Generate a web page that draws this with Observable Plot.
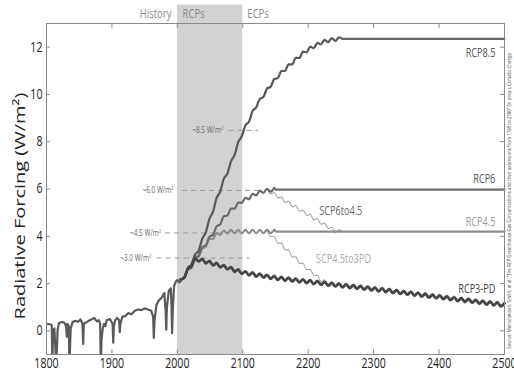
<!DOCTYPE html>
<html><head><meta charset="utf-8">
<script src="https://cdn.jsdelivr.net/npm/d3@7"></script>
<script src="https://cdn.jsdelivr.net/npm/@observablehq/plot@0.6"></script>
<style>
html,body{margin:0;padding:0;background:#fff;}
#chart{width:514px;height:372px;overflow:hidden;}
</style></head><body><div id="chart"></div>
<script>
const FONT = '"Open Sans",Roboto,sans-serif';
const CONDENSE = 0.76; // horizontal squeeze to mimic the condensed face
const STEP = 5.5; // half solar-cycle spacing of the read values (years)

// History 1800-2005
const historyYears = [1800,1805,1808,1809,1810,1812,1815,1817,1819,1823,1827,1830,1831,1832,1834,1835,1837,1840,1845,1848,1852,1855,1856,1857,1862,1866,1870,1873,1877,1880,1882,1883,1884,1886,1888,1890,1892,1897,1901,1902,1903,1905,1908,1911,1912,1913,1916,1920,1925,1930,1935,1940,1945,1950,1955,1960,1963,1964,1965,1968,1972,1976,1980,1982,1983,1984,1987,1990,1991,1992,1993,1995,1998,2000,2003,2005];
const historyValues = [0.30,0.28,0.25,-1.5,0.0,0.1,-1.5,0.05,0.32,0.38,0.35,0.2,-0.25,0.3,0.2,-1.5,0.1,0.38,0.42,0.38,0.48,0.3,-0.55,0.3,0.38,0.45,0.5,0.55,0.4,0.45,0.3,-1.5,-0.4,0.1,0.3,0.2,0.45,0.5,0.3,-0.5,0.2,0.45,0.55,0.45,-0.05,0.3,0.6,0.62,0.75,0.7,0.85,0.9,0.88,0.95,0.9,0.85,0.6,-0.3,0.4,1.1,1.3,1.4,1.6,0.9,0.05,1.0,1.7,1.8,1.1,-0.1,0.9,1.9,2.1,2.15,2.05,2.1];

// Scenario values, every 5.5 years from the start year
const rcp85Start = 2005;
const rcp85 = [2.17,2.26,2.67,2.81,3.22,3.39,3.89,4.16,4.74,5.04,5.62,5.89,6.44,6.65,7.17,7.44,7.98,8.23,8.69,8.85,9.30,9.45,9.81,9.89,10.25,10.32,10.65,10.69,10.99,10.99,11.27,11.27,11.55,11.54,11.81,11.78,12.02,11.96,12.18,12.12,12.31,12.21,12.38,12.26,12.41,12.35];
const rcp85Flat = 12.35;
const rcp6Start = 2005;
const rcp6 = [2.17,2.25,2.61,2.70,3.09,3.18,3.54,3.62,3.98,4.06,4.42,4.50,4.85,4.88,5.17,5.17,5.43,5.41,5.63,5.57,5.80,5.73,5.93,5.84,6.01,5.89,6.04];
const rcp6Flat = 5.97;
const rcp45Start = 2005;
const rcp45 = [2.17,2.25,2.58,2.65,3.04,3.13,3.49,3.55,3.89,3.88,4.14,4.06,4.24,4.12,4.27,4.13,4.27,4.13,4.27,4.13,4.27,4.13,4.27,4.13,4.27,4.13,4.27];
const rcp45Flat = 4.2;
const rcp3Start = 2005;
const rcp3 = [2.17,2.25,2.62,2.74,3.05,2.94,3.04,2.86,2.96,2.77,2.87,2.69,2.78,2.60,2.69,2.50,2.60,2.41,2.52,2.35,2.47,2.30,2.42,2.25,2.37,2.20,2.32,2.16,2.28,2.12,2.25,2.09,2.21,2.05,2.18,2.02,2.14,1.98,2.11,1.95,2.07,1.91,2.03,1.88,2.00,1.84,1.96,1.81,1.93,1.78,1.90,1.74,1.87,1.71,1.83,1.67,1.80,1.64,1.76,1.60,1.72,1.56,1.68,1.53,1.65,1.49,1.61,1.45,1.57,1.41,1.53,1.38,1.50,1.34,1.46,1.30,1.42,1.26,1.38,1.22,1.35,1.19,1.31,1.15,1.27,1.11,1.24,1.08,1.20,1.04,1.17];
const scp6to45Start = 2137;
const scp6to45 = [6.01,5.80,5.85,5.62,5.66,5.43,5.48,5.25,5.30,5.06,5.11,4.88,4.93,4.70,4.75,4.51,4.56,4.33,4.38,4.15,4.27,4.20];
const scp45to3Start = 2137;
const scp45to3 = [4.27,3.99,3.99,3.71,3.71,3.43,3.42,3.13,3.13,2.85,2.86,2.59,2.60,2.34,2.35,2.09,2.16,1.97,2.07,1.91,2.05,1.89,2.01,1.86,1.98,1.83,1.95,1.79,1.92,1.76,1.88,1.72,1.85,1.69,1.81,1.65,1.77,1.61,1.73,1.58,1.70,1.54,1.66,1.50,1.62,1.46,1.58,1.43,1.55,1.39,1.51,1.35,1.47,1.31,1.43,1.27,1.40,1.24,1.36,1.20,1.32,1.16,1.29,1.13,1.25,1.09,1.22];

// Series labels
const seriesNames = ["RCP8.5","RCP6","SCP6to4.5","RCP4.5","SCP4.5to3PD","RCP3-PD"];
const labelYears = [2486,2486,2217,2486,2212,2486];
const labelValues = [11.75,6.42,5.07,4.58,3.04,1.76];
const labelAnchors = ["end","end","start","end","start","end"];
const labelColors = ["#555","#555","#666","#9a9a9a","#aaa","#444"];

// Target-level annotations
const annotTexts = ["~8.5 W/m²","~6.0 W/m²","~4.5 W/m²","~3.0 W/m²"];
const annotLevels = [8.48,5.94,4.14,3.08];
const annotTextEnd = [2070,1994,1975,1960];
const annotDashFrom = [2079,2008,1982,1969];
const annotDashTo = [2124,2130,2069,2111];

// Period headers
const periodNames = ["History","RCPs","ECPs"];
const periodYears = [1991,2008,2107];
const periodAnchors = ["end","start","start"];

const xTicks = [1800,1900,2000,2100,2200,2300,2400,2500];
const yTicks = [0,2,4,6,8,10,12];
const yLabel = "Radiative Forcing (W/m²)";
const sourceText = "Source: Meinshausen, Smith, et al. \u201cThe RCP Greenhouse Gas Concentrations and their extensions from 1765 to 2300\u201d (in prep.), Climatic Change";

function seq(start, values){ return values.map((v,i)=>({year:start+STEP*i, value:v})); }
function withFlat(start, values, flat){
  const s = seq(start, values);
  const last = s[s.length-1].year;
  return {wavy:s, flat:[{year:last, value: values[values.length-1]},{year:last+STEP*0.5,value:flat},{year:2500,value:flat}]};
}
const history = historyYears.map((y,i)=>({year:y, value:historyValues[i]}));
const s85 = withFlat(rcp85Start, rcp85, rcp85Flat);
const s6 = withFlat(rcp6Start, rcp6, rcp6Flat);
const s45 = withFlat(rcp45Start, rcp45, rcp45Flat);
const s3 = seq(rcp3Start, rcp3);
const sc1 = seq(scp6to45Start, scp6to45);
const sc2 = seq(scp45to3Start, scp45to3);

const labels = seriesNames.map((n,i)=>({name:n, year:labelYears[i], value:labelValues[i], anchor:labelAnchors[i], color:labelColors[i]}));
const annots = annotTexts.map((t,i)=>({text:t, level:annotLevels[i], end:annotTextEnd[i], from:annotDashFrom[i], to:annotDashTo[i]}));
const periods = periodNames.map((n,i)=>({name:n, year:periodYears[i], anchor:periodAnchors[i]}));

const lineOpts = (stroke, w) => ({x:"year", y:"value", stroke, strokeWidth:w, curve:"monotone-x"});
const tickStroke = "#8a8a8a";

const chart = Plot.plot({
  width:514, height:372,
  marginLeft:46, marginRight:10, marginTop:23, marginBottom:18,
  style:{fontFamily:FONT, fontSize:"13px", color:"#222", background:"#fff", overflow:"visible"},
  x:{domain:[1800,2500]},
  y:{domain:[-1,13]},
  marks:[
    Plot.rect([{x1:2000,x2:2100}], {x1:"x1", x2:"x2", y1:-1, y2:13.78, fill:"#d2d2d2", clip:false}),
    Plot.ruleY(annots, {y:"level", x1:"from", x2:"to", stroke:"#9a9a9a", strokeWidth:1, strokeDasharray:"5,4"}),
    Plot.text(annots, {x:"end", y:"level", text:"text", textAnchor:"end", fill:"#666", fontSize:8.5}),
    Plot.line(sc1, lineOpts("#9e9e9e",1.1)),
    Plot.line(sc2, lineOpts("#a8a8a8",1.1)),
    Plot.line(s45.wavy, lineOpts("#8c8c8c",2.2)),
    Plot.line(s45.flat, {x:"year", y:"value", stroke:"#8c8c8c", strokeWidth:2.2}),
    Plot.line(s6.wavy, lineOpts("#6a6a6a",2.2)),
    Plot.line(s6.flat, {x:"year", y:"value", stroke:"#6a6a6a", strokeWidth:2.2}),
    Plot.line(s85.wavy, lineOpts("#575757",2.2)),
    Plot.line(s85.flat, {x:"year", y:"value", stroke:"#666", strokeWidth:2.2}),
    Plot.line(s3, lineOpts("#454545",2.8)),
    Plot.line(history, {x:"year", y:"value", stroke:"#5a5a5a", strokeWidth:2.2, clip:true}),
    Plot.text(labels.filter(d=>d.anchor==="end"), {x:"year", y:"value", text:"name", textAnchor:"end", fill:d=>d.color, fontSize:12}),
    Plot.text(labels.filter(d=>d.anchor==="start"), {x:"year", y:"value", text:"name", textAnchor:"start", fill:d=>d.color, fontSize:12}),
    Plot.text(periods.filter(d=>d.anchor==="end"), {x:"year", y:13.39, text:"name", textAnchor:"end", fill:"#888", fontSize:12.5, clip:false}),
    Plot.text(periods.filter(d=>d.anchor==="start"), {x:"year", y:13.39, text:"name", textAnchor:"start", fill:"#888", fontSize:12.5, clip:false}),
    Plot.text([yLabel], {x:1800, y:5.28, dx:-26, text:d=>d, rotate:-90, fill:"#222", fontSize:20, clip:false}),
    Plot.text([sourceText], {x:2500, y:5.5, dx:5, text:d=>d, rotate:-90, fill:"#333", fontSize:5.8, clip:false}),
    Plot.frame({stroke:tickStroke, strokeWidth:1}),
    Plot.axisX({anchor:"bottom", ticks:xTicks, tickSize:0, tickPadding:4, tickFormat:d=>String(d), fontSize:14}),
    Plot.ruleX(xTicks, {x:d=>d, y1:-1, y2:-0.8, stroke:tickStroke}),
    Plot.ruleX(xTicks, {x:d=>d, y1:13, y2:12.8, stroke:tickStroke}),
    Plot.axisY({anchor:"left", ticks:yTicks, tickSize:0, tickPadding:4, fontSize:14}),
    Plot.ruleY(yTicks, {y:d=>d, x1:1800, x2:1806, stroke:tickStroke}),
    Plot.ruleY(yTicks, {y:d=>d, x1:2494, x2:2500, stroke:tickStroke})
  ]
});

// squeeze glyphs horizontally on screen (the reference is a horizontally compressed figure)
chart.querySelectorAll("text").forEach(t => {
  const tr = t.getAttribute("transform") || "";
  if (t.textContent === yLabel) {
    // rotated text: screen x is the local y direction
    t.setAttribute("transform", (tr + ` scale(1,${CONDENSE})`).trim());
    return;
  }
  if (t.textContent === sourceText) {
    t.setAttribute("transform", (tr + ` scale(${CONDENSE},1)`).trim());
    return;
  }
  const x = t.getAttribute("x");
  if (x !== null && !isNaN(+x)) t.setAttribute("x", +x / CONDENSE);
  t.setAttribute("transform", (tr + ` scale(${CONDENSE},1)`).trim());
});
document.getElementById("chart").appendChild(chart);
</script></body></html>
